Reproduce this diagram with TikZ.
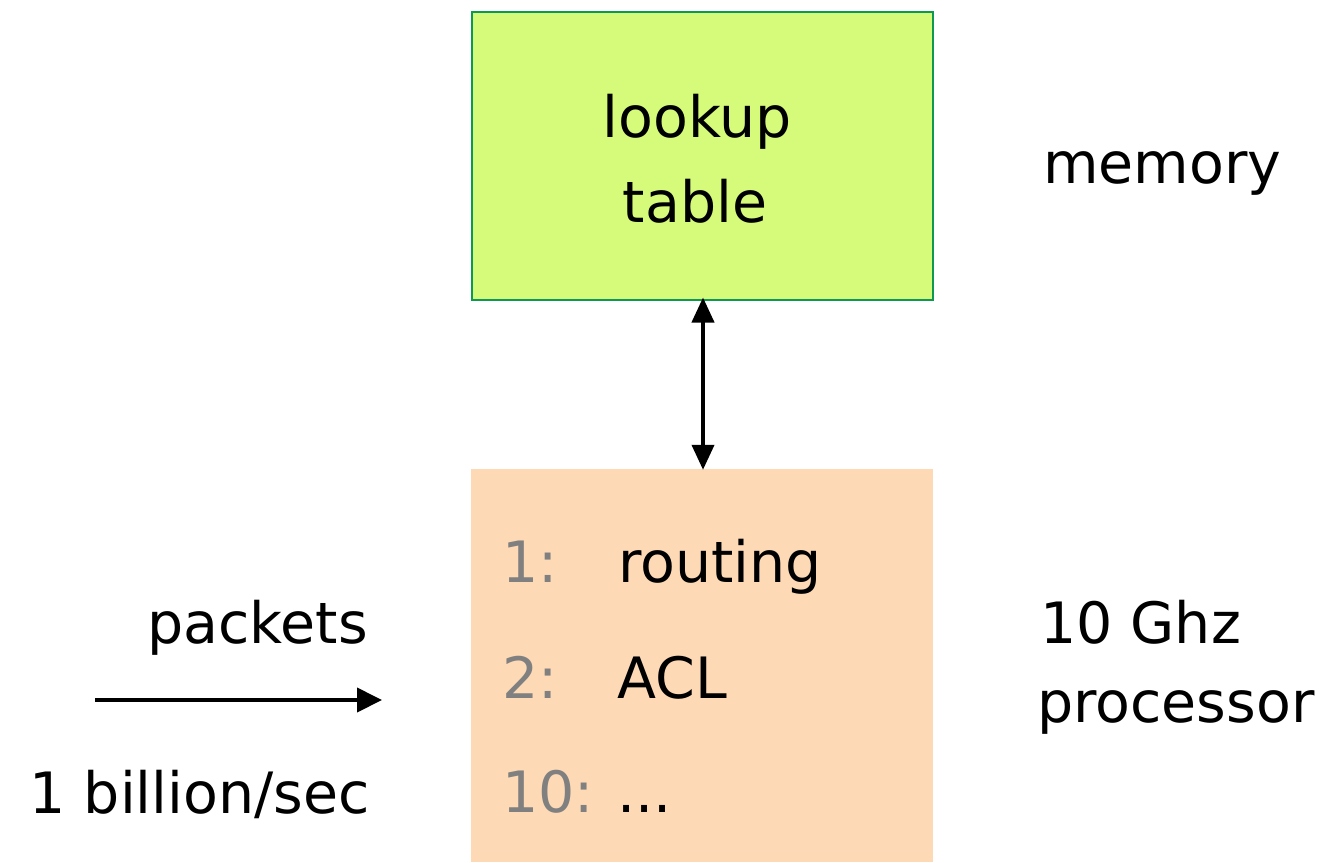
\documentclass[tikz,border=0pt]{standalone}
\usepackage{fontspec}
\setmainfont{DejaVu Sans}
\usetikzlibrary{arrows.meta}
\definecolor{lutfill}{HTML}{D6FB7B}
\definecolor{lutdraw}{HTML}{0D9950}
\definecolor{procfill}{HTML}{FDDAB5}
\definecolor{numgrey}{HTML}{808080}
\begin{document}
\begin{tikzpicture}[x=1pt,y=-1pt,
  txt/.style={inner sep=0pt,font=\fontsize{57}{64}\selectfont},
  num/.style={txt,text=numgrey},
  arr/.style={line width=4pt,-{Triangle[length=25pt,width=24pt]}},
  darr/.style={line width=4pt,{Triangle[length=25pt,width=22pt]}-{Triangle[length=25pt,width=22pt]}}]
\useasboundingbox (0,0) rectangle (1321,862);
\node[draw=lutdraw,line width=2pt,fill=lutfill,minimum width=461pt,minimum height=288pt,inner sep=0pt] (lut) at (702,155.5) {};
\node[fill=procfill,minimum width=462pt,minimum height=393pt,inner sep=0pt] (proc) at (702,665.5) {};
\node[txt,anchor=base] (l1) at (697,137) {lookup};
\node[txt,anchor=base] (l2) at (695,222) {table};
\node[txt,anchor=base west] (mem) at (1043,183) {memory};
\node[num,anchor=base west] (n1) at (502,582) {1:};
\node[num,anchor=base west] (n2) at (502,698) {2:};
\node[num,anchor=base west] (n3) at (502,812) {10:};
\node[txt,anchor=base west] (t1) at (618,582) {routing};
\node[txt,anchor=base west] (t2) at (617,698) {ACL};
\node[txt,anchor=base west] (t3) at (617,812) {...};
\node[txt,anchor=base east] (pk) at (368,643) {packets};
\node[txt,anchor=base east] (rate) at (370,813) {1 billion/sec};
\node[txt,anchor=base west] (ghz) at (1040,643) {10 Ghz};
\node[txt,anchor=base west] (cpu) at (1037,722) {processor};
\coordinate (pa) at (95,700);
\coordinate (pb) at (382,700);
\draw[arr] (pa) -- (pb);
\draw[darr] ([xshift=1pt,yshift=3pt]lut.south) -- ([xshift=1pt,yshift=-1pt]proc.north);
\end{tikzpicture}
\end{document}
